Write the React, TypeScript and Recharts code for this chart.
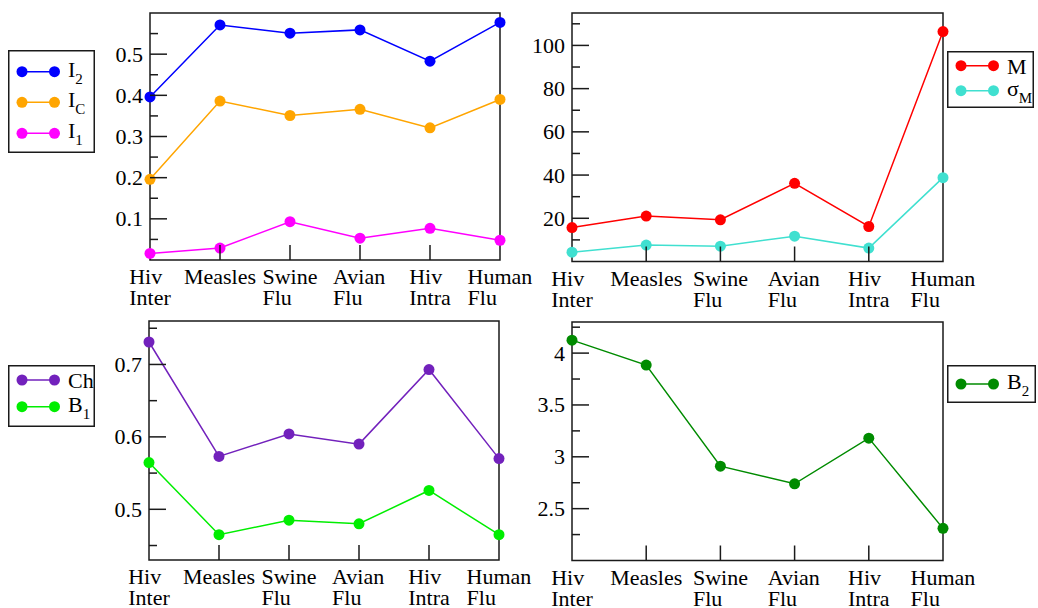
import React from 'react';
import { LineChart, Line, XAxis, YAxis, ReferenceArea, Legend } from 'recharts';

const categories = ['Hiv Inter', 'Measles', 'Swine Flu', 'Avian Flu', 'Hiv Intra', 'Human Flu'];
const categoryLines = [['Hiv', 'Inter'], ['Measles'], ['Swine', 'Flu'], ['Avian', 'Flu'], ['Hiv', 'Intra'], ['Human', 'Flu']];

const i2Values = [0.396, 0.571, 0.551, 0.559, 0.483, 0.577];
const icValues = [0.196, 0.386, 0.351, 0.366, 0.321, 0.39];
const i1Values = [0.016, 0.029, 0.093, 0.053, 0.077, 0.048];
const mValues = [15.7, 21.0, 19.3, 36.2, 16.2, 106.4];
const sigmaMValues = [4.3, 7.6, 7.1, 11.7, 6.2, 38.8];
const chValues = [0.731, 0.573, 0.604, 0.59, 0.693, 0.57];
const b1Values = [0.5645, 0.465, 0.485, 0.48, 0.526, 0.465];
const b2Values = [4.125, 3.885, 2.91, 2.74, 3.18, 2.31];

const panel1Domain = [0, 0.6];
const panel1Ticks = [0.05, 0.1, 0.15, 0.2, 0.25, 0.3, 0.35, 0.4, 0.45, 0.5, 0.55];
const panel1Labels = [0.1, 0.2, 0.3, 0.4, 0.5];
const panel2Domain = [0, 115];
const panel2Ticks = [10, 20, 30, 40, 50, 60, 70, 80, 90, 100, 110];
const panel2Labels = [20, 40, 60, 80, 100];
const panel3Domain = [0.43, 0.76];
const panel3Ticks = [0.45, 0.5, 0.55, 0.6, 0.65, 0.7, 0.75];
const panel3Labels = [0.5, 0.6, 0.7];
const panel4Domain = [2, 4.3];
const panel4Ticks = [2.25, 2.5, 2.75, 3, 3.25, 3.5, 3.75, 4, 4.25];
const panel4Labels = [2.5, 3, 3.5, 4];

const FONT = 'Liberation Serif';
const FS = 22;
const INK = '#1a1a1a';
const TEXT_INK = '#000';

// approximate advance widths (per 1000 em) of a Times-metric serif face
const CHAR_W: Record<string, number> = {
  H: 722, i: 278, v: 500, I: 333, n: 500, t: 278, e: 444, r: 333, M: 889, a: 444,
  s: 389, l: 278, S: 556, w: 722, F: 556, u: 500, A: 722, m: 778,
};
function textWidth(s: string): number {
  let w = 0;
  for (const ch of s) w += CHAR_W[ch] ?? 500;
  return (w / 1000) * FS;
}

const XTick = (props: any) => {
  const { x, y, payload } = props;
  const idx = categories.indexOf(payload.value);
  const lines = categoryLines[idx] ?? [String(payload.value)];
  const w = Math.max(...lines.map(textWidth));
  const sx = x - w / 2;
  const last = categories.length - 1;
  return (
    <g>
      {idx > 0 && idx < last && (
        <line x1={x} x2={x} y1={y} y2={y - 15} stroke={INK} strokeWidth={1.5} />
      )}
      {lines.map((l, i) => (
        <text key={i} x={sx} y={y + 24 + i * 21} fontFamily={FONT} fontSize={FS} fill={TEXT_INK} textAnchor="start">
          {l}
        </text>
      ))}
    </g>
  );
};

const makeYTick = (labels: number[], side: 'left' | 'right', gap: number) => (props: any) => {
  const { x, y, payload } = props;
  const v = payload.value as number;
  const isMajor = labels.some((m) => Math.abs(m - v) < 1e-9);
  const len = isMajor ? 17 : 8;
  if (side === 'left') {
    const ax = x + gap;
    return (
      <g>
        <line x1={ax} x2={ax + len} y1={y} y2={y} stroke={INK} strokeWidth={1.5} />
        {isMajor && (
          <text x={x} y={y + 7.5} textAnchor="end" fontFamily={FONT} fontSize={FS} fill={TEXT_INK}>
            {String(v)}
          </text>
        )}
      </g>
    );
  }
  return <line x1={x - len} x2={x} y1={y} y2={y} stroke={INK} strokeWidth={1.5} />;
};

type SeriesDef = { key: string; color: string; values: number[]; main: string; sub?: string };
type LegendDef = { left: number; top: number; w: number; h: number; rows: number[] };

function LegendBox({ legend, series }: { legend: LegendDef; series: SeriesDef[] }) {
  const { w, h, rows } = legend;
  return (
    <svg width={w} height={h} style={{ display: 'block', overflow: 'visible' }}>
      <rect x={0.75} y={0.75} width={w - 1.5} height={h - 1.5} fill="#fff" stroke={INK} strokeWidth={1.5} />
      {series.map((s, i) => {
        const ry = rows[i];
        return (
          <g key={s.key}>
            <line x1={14} x2={46.5} y1={ry} y2={ry} stroke={s.color} strokeWidth={1.5} />
            <circle cx={14} cy={ry} r={5.5} fill={s.color} />
            <circle cx={46.5} cy={ry} r={5.5} fill={s.color} />
            <text x={60} y={ry + (s.sub ? 5 : 8)} fontFamily={FONT} fontSize={FS} fill={TEXT_INK}>
              {s.main}
              {s.sub && (
                <tspan fontSize={15} dy={7}>
                  {s.sub}
                </tspan>
              )}
            </text>
          </g>
        );
      })}
    </svg>
  );
}

type PanelProps = {
  left: number;
  top: number;
  width: number;
  height: number;
  margin: { top: number; right: number; bottom: number; left: number };
  yWidth: number;
  xHeight: number;
  domain: number[];
  ticks: number[];
  labels: number[];
  series: SeriesDef[];
  legend: LegendDef;
};

function Panel(p: PanelProps) {
  const data = categories.map((c, i) => {
    const row: any = { cat: c };
    p.series.forEach((s) => {
      row[s.key] = s.values[i];
    });
    return row;
  });
  const last = categories.length - 1;
  return (
    <div style={{ position: 'absolute', left: p.left, top: p.top, width: p.width, height: p.height }}>
      <LineChart width={p.width} height={p.height} data={data} margin={p.margin}>
        <XAxis
          dataKey="cat"
          type="category"
          height={p.xHeight}
          interval={0}
          tickSize={0}
          tickMargin={0}
          axisLine={false}
          tickLine={false}
          tick={(tp: any) => <XTick {...tp} />}
        />
        <YAxis
          yAxisId="l"
          type="number"
          domain={p.domain}
          ticks={p.ticks}
          width={p.yWidth}
          interval={0}
          tickSize={0}
          tickMargin={7}
          axisLine={false}
          tickLine={false}
          allowDataOverflow
          tick={makeYTick(p.labels, 'left', 7)}
        />
        <YAxis
          yAxisId="r"
          orientation="right"
          type="number"
          domain={p.domain}
          ticks={p.ticks}
          width={0}
          interval={0}
          tickSize={0}
          tickMargin={0}
          axisLine={false}
          tickLine={false}
          allowDataOverflow
          tick={makeYTick(p.labels, 'right', 0)}
        />
        <ReferenceArea
          yAxisId="l"
          x1={categories[0]}
          x2={categories[last]}
          y1={p.domain[0]}
          y2={p.domain[1]}
          fill="none"
          fillOpacity={0}
          stroke={INK}
          strokeWidth={1.5}
          ifOverflow="visible"
        />
        {p.series.map((s) => (
          <Line
            key={s.key}
            yAxisId="l"
            type="linear"
            dataKey={s.key}
            stroke={s.color}
            strokeWidth={1.5}
            dot={{ r: 5.5, fill: s.color, stroke: s.color, strokeWidth: 0 }}
            activeDot={false}
            isAnimationActive={false}
          />
        ))}
        <Legend
          layout="horizontal"
          verticalAlign="middle"
          align="center"
          wrapperStyle={{ left: p.legend.left, top: p.legend.top, width: 'auto', height: 'auto' }}
          content={() => <LegendBox legend={p.legend} series={p.series} />}
        />
      </LineChart>
    </div>
  );
}

export default function App() {
  const s1: SeriesDef[] = [
    { key: 'I2', color: '#0000ff', values: i2Values, main: 'I', sub: '2' },
    { key: 'IC', color: '#ffa500', values: icValues, main: 'I', sub: 'C' },
    { key: 'I1', color: '#ff00ff', values: i1Values, main: 'I', sub: '1' },
  ];
  const s2: SeriesDef[] = [
    { key: 'M', color: '#ff0000', values: mValues, main: 'M' },
    { key: 'sM', color: '#40e0d0', values: sigmaMValues, main: 'σ', sub: 'M' },
  ];
  const s3: SeriesDef[] = [
    { key: 'Ch', color: '#7221bc', values: chValues, main: 'Ch' },
    { key: 'B1', color: '#00ee00', values: b1Values, main: 'B', sub: '1' },
  ];
  const s4: SeriesDef[] = [{ key: 'B2', color: '#008b00', values: b2Values, main: 'B', sub: '2' }];

  return (
    <div style={{ position: 'absolute', left: 0, top: 0, width: 1038, height: 608, background: '#fff', overflow: 'hidden' }}>
      <Panel
        left={0}
        top={0}
        width={560}
        height={320}
        margin={{ top: 13, right: 60, bottom: 0, left: 90 }}
        yWidth={60}
        xHeight={60}
        domain={panel1Domain}
        ticks={panel1Ticks}
        labels={panel1Labels}
        series={s1}
        legend={{ left: 8, top: 50, w: 87, h: 103, rows: [21.7, 52.3, 83.3] }}
      />
      <Panel
        left={520}
        top={0}
        width={518}
        height={320}
        margin={{ top: 13, right: 95, bottom: 0, left: 2 }}
        yWidth={50}
        xHeight={58.5}
        domain={panel2Domain}
        ticks={panel2Ticks}
        labels={panel2Labels}
        series={s2}
        legend={{ left: 427, top: 51, w: 87, h: 57, rows: [14.7, 39.7] }}
      />
      <Panel
        left={0}
        top={310}
        width={560}
        height={298}
        margin={{ top: 11, right: 61, bottom: 0, left: 89 }}
        yWidth={60}
        xHeight={48}
        domain={panel3Domain}
        ticks={panel3Ticks}
        labels={panel3Labels}
        series={s3}
        legend={{ left: 8, top: 55, w: 87, h: 62, rows: [15, 41.7] }}
      />
      <Panel
        left={520}
        top={310}
        width={518}
        height={298}
        margin={{ top: 12, right: 95, bottom: 0, left: 2 }}
        yWidth={50}
        xHeight={47.5}
        domain={panel4Domain}
        ticks={panel4Ticks}
        labels={panel4Labels}
        series={s4}
        legend={{ left: 427, top: 55, w: 89, h: 38, rows: [19] }}
      />
    </div>
  );
}
